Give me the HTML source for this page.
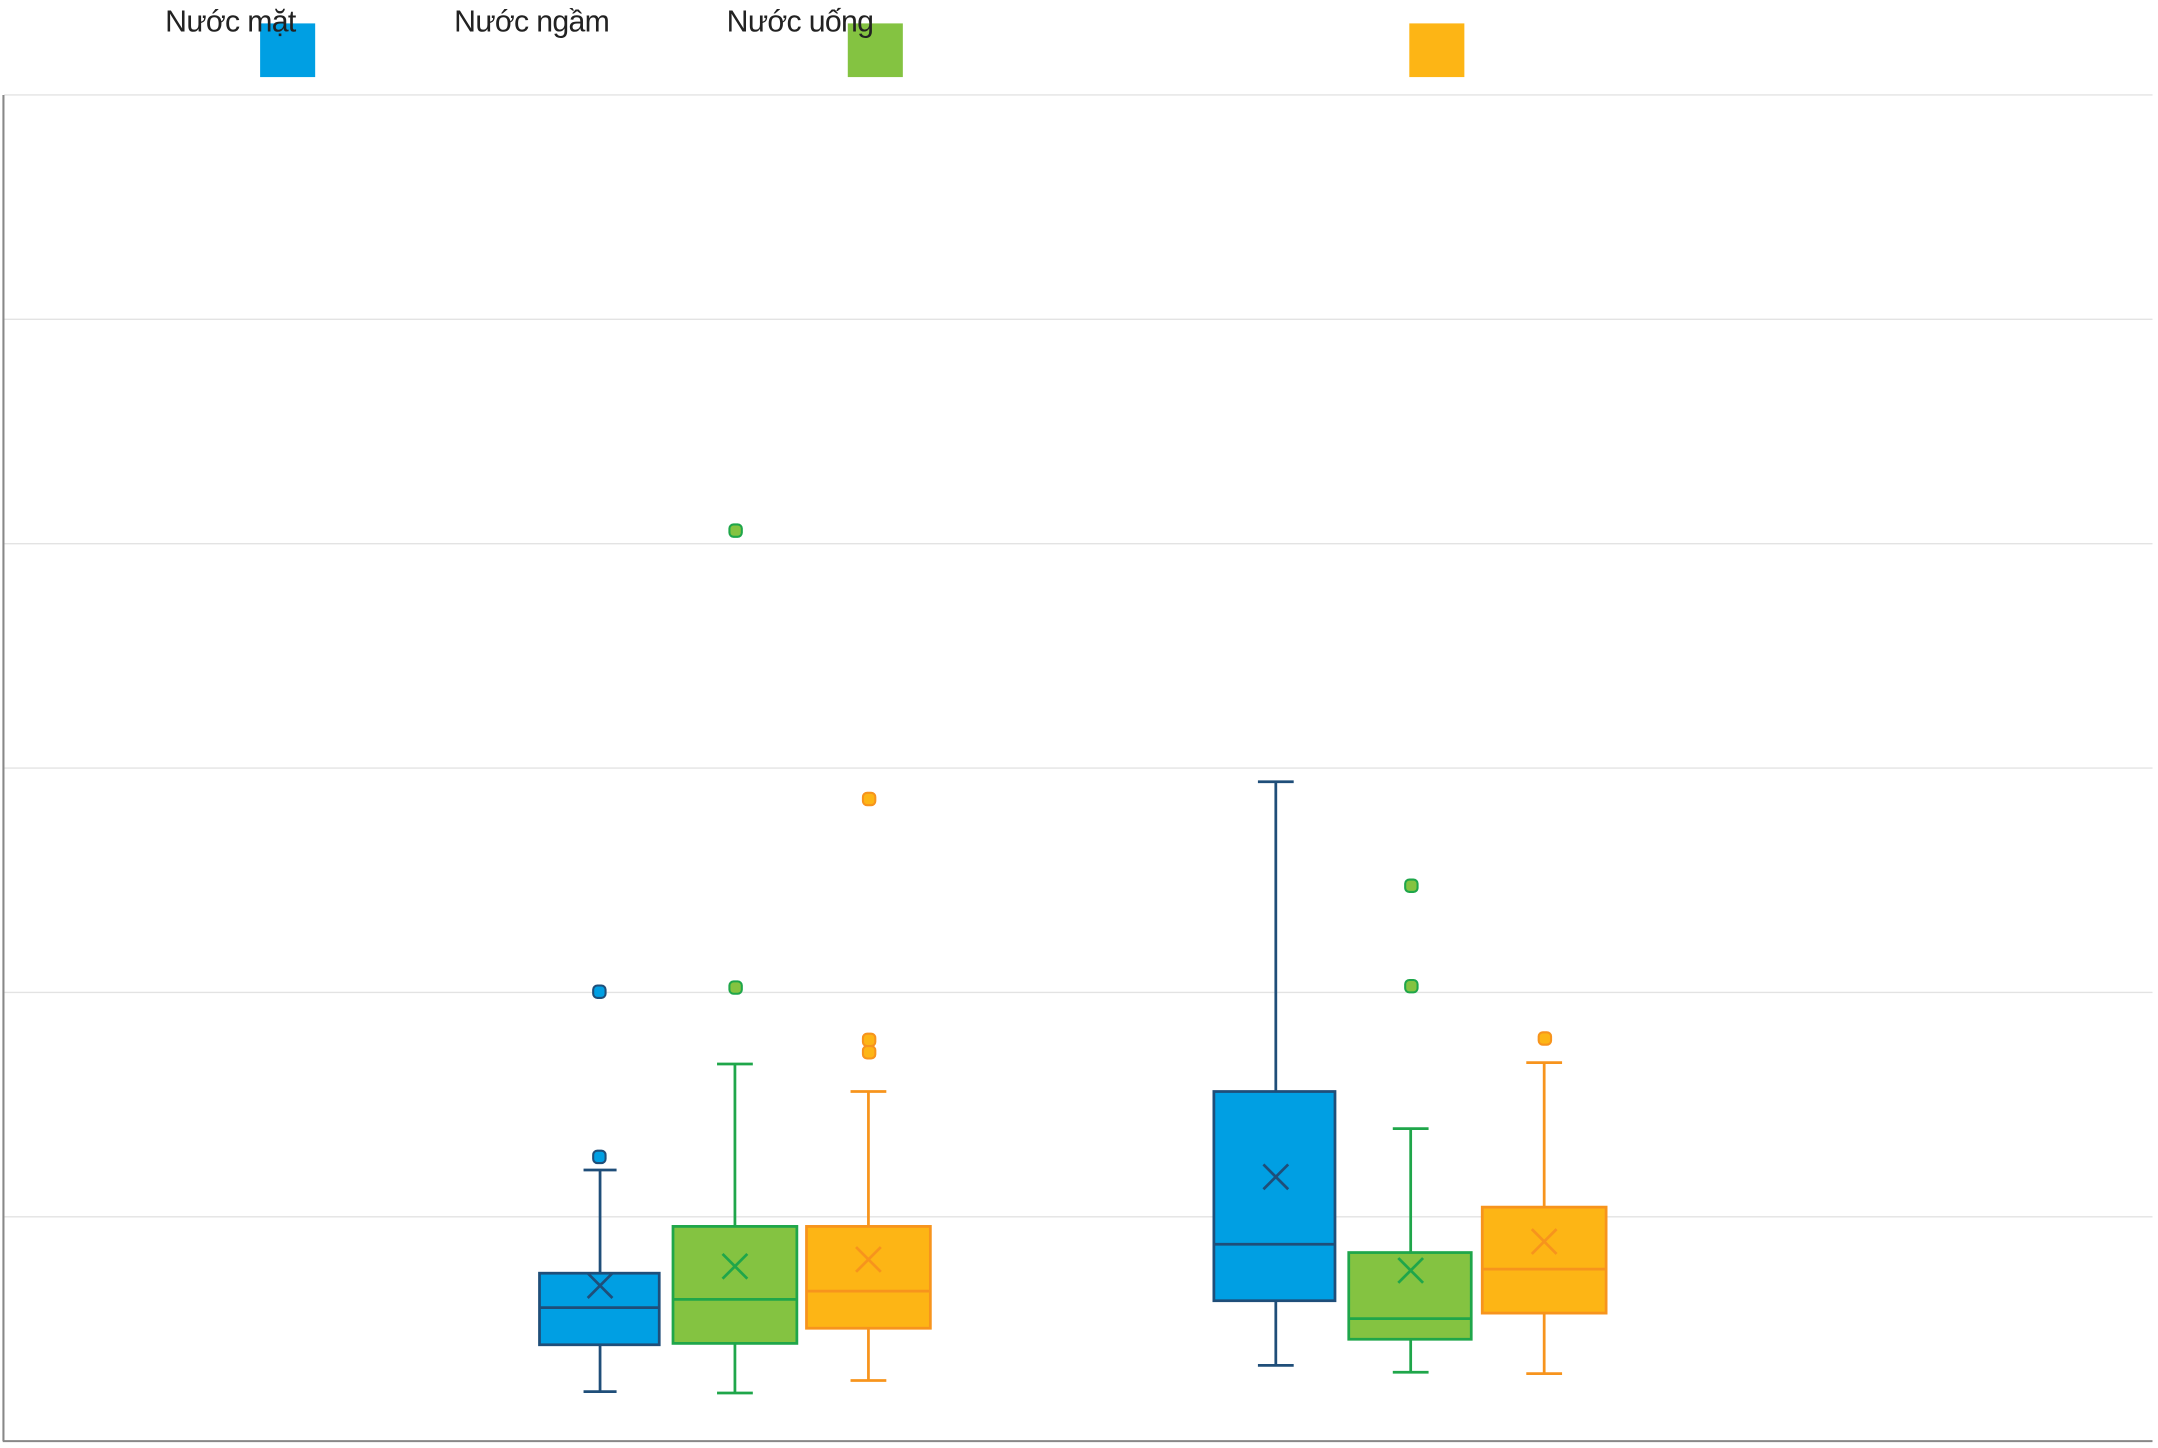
<!DOCTYPE html>
<html><head><meta charset="utf-8"><style>
html,body{margin:0;padding:0;background:#fff;width:2158px;height:1448px;overflow:hidden}
svg{display:block}
text{font-family:"Liberation Sans","Noto Sans CJK SC",sans-serif;font-size:22px;fill:#222;letter-spacing:-0.5px}
</style></head><body>
<svg width="2158" height="1448" viewBox="0 0 1568 1052" preserveAspectRatio="none" xmlns="http://www.w3.org/2000/svg">
<rect x="189" y="17" width="40" height="39" fill="#009FE3"/>
<rect x="616" y="17" width="40" height="39" fill="#84C341"/>
<rect x="1024" y="17" width="40" height="39" fill="#FDB515"/>
<text x="120" y="23">Nước mặt</text>
<text x="330" y="23">Nước ngầm</text>
<text x="528" y="23">Nước uống</text>
<g stroke="#e3e3e3" stroke-width="1">
<line x1="3" y1="69" x2="1564" y2="69"/><line x1="3" y1="232" x2="1564" y2="232"/>
<line x1="3" y1="395" x2="1564" y2="395"/><line x1="3" y1="558" x2="1564" y2="558"/>
<line x1="3" y1="721" x2="1564" y2="721"/><line x1="3" y1="884" x2="1564" y2="884"/>
</g>
<line x1="2.5" y1="69" x2="2.5" y2="1047" stroke="#888" stroke-width="1.5"/>
<line x1="2" y1="1047" x2="1564" y2="1047" stroke="#888" stroke-width="1.5"/>
<g stroke="#1F4E79" stroke-width="2" fill="#009FE3">
<line x1="436" y1="850" x2="436" y2="925"/><line x1="424" y1="850" x2="448" y2="850"/>
<line x1="436" y1="977" x2="436" y2="1011"/><line x1="424" y1="1011" x2="448" y2="1011"/>
<rect x="392" y="925" width="87" height="52"/>
<line x1="392" y1="950" x2="479" y2="950"/>
<path d="M427 925 L445 943 M445 925 L427 943" fill="none"/>
<rect x="431" y="836" width="9" height="9" rx="3" stroke-width="1.5"/>
<rect x="431" y="716" width="9" height="9" rx="3" stroke-width="1.5"/>
</g>
<g stroke="#1FA64A" stroke-width="2" fill="#84C341">
<line x1="534" y1="773" x2="534" y2="891"/><line x1="521" y1="773" x2="547" y2="773"/>
<line x1="534" y1="976" x2="534" y2="1012"/><line x1="521" y1="1012" x2="547" y2="1012"/>
<rect x="489" y="891" width="90" height="85"/>
<line x1="489" y1="944" x2="579" y2="944"/>
<path d="M525 911 L543 929 M543 911 L525 929" fill="none"/>
<rect x="530" y="381" width="9" height="9" rx="3" stroke-width="1.5"/>
<rect x="530" y="713" width="9" height="9" rx="3" stroke-width="1.5"/>
</g>
<g stroke="#F7941D" stroke-width="2" fill="#FDB515">
<line x1="631" y1="793" x2="631" y2="891"/><line x1="618" y1="793" x2="644" y2="793"/>
<line x1="631" y1="965" x2="631" y2="1003"/><line x1="618" y1="1003" x2="644" y2="1003"/>
<rect x="586" y="891" width="90" height="74"/>
<line x1="586" y1="938" x2="676" y2="938"/>
<path d="M622 906 L640 924 M640 906 L622 924" fill="none"/>
<rect x="627" y="576" width="9" height="9" rx="3" stroke-width="1.5"/>
<rect x="627" y="751" width="9" height="9" rx="3" stroke-width="1.5"/>
<rect x="627" y="760" width="9" height="9" rx="3" stroke-width="1.5"/>
</g>
<g stroke="#1F4E79" stroke-width="2" fill="#009FE3">
<line x1="927" y1="568" x2="927" y2="793"/><line x1="914" y1="568" x2="940" y2="568"/>
<line x1="927" y1="945" x2="927" y2="992"/><line x1="914" y1="992" x2="940" y2="992"/>
<rect x="882" y="793" width="88" height="152"/>
<line x1="882" y1="904" x2="970" y2="904"/>
<path d="M918 846 L936 864 M936 846 L918 864" fill="none"/>
</g>
<g stroke="#1FA64A" stroke-width="2" fill="#84C341">
<line x1="1025" y1="820" x2="1025" y2="910"/><line x1="1012" y1="820" x2="1038" y2="820"/>
<line x1="1025" y1="973" x2="1025" y2="997"/><line x1="1012" y1="997" x2="1038" y2="997"/>
<rect x="980" y="910" width="89" height="63"/>
<line x1="980" y1="958" x2="1069" y2="958"/>
<path d="M1016 914 L1034 932 M1034 914 L1016 932" fill="none"/>
<rect x="1021" y="639" width="9" height="9" rx="3" stroke-width="1.5"/>
<rect x="1021" y="712" width="9" height="9" rx="3" stroke-width="1.5"/>
</g>
<g stroke="#F7941D" stroke-width="2" fill="#FDB515">
<line x1="1122" y1="772" x2="1122" y2="877"/><line x1="1109" y1="772" x2="1135" y2="772"/>
<line x1="1122" y1="954" x2="1122" y2="998"/><line x1="1109" y1="998" x2="1135" y2="998"/>
<rect x="1077" y="877" width="90" height="77"/>
<line x1="1077" y1="922" x2="1167" y2="922"/>
<path d="M1113 893 L1131 911 M1131 893 L1113 911" fill="none"/>
<rect x="1118" y="750" width="9" height="9" rx="3" stroke-width="1.5"/>
</g>
</svg>
</body></html>
